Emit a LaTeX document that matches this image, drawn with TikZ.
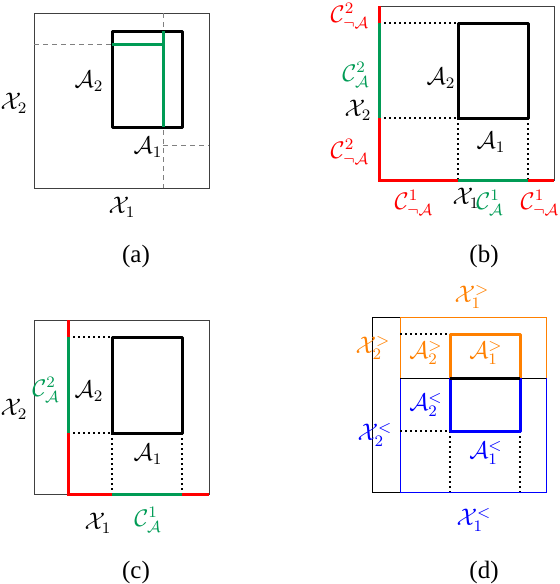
\documentclass[tikz,border=0pt]{standalone}
\usepackage{fontspec}
\setmainfont{Liberation Serif}
\definecolor{cgreen}{RGB}{0,155,85}
\definecolor{cred}{RGB}{255,0,0}
\definecolor{corange}{RGB}{255,128,0}
\definecolor{cblue}{RGB}{0,0,255}
\tikzset{
  frame/.style={draw=black!75, line width=0.5pt},
  thinblk/.style={draw=black, line width=0.5pt},
  dashgray/.style={draw=gray, line width=0.5pt, dash pattern=on 2.5pt off 2pt},
  dotblk/.style={draw=black, line width=0.9pt, dash pattern=on 0.9pt off 1.6pt},
  thickbox/.style={draw=black, line width=1.5pt, line join=round},
  grn/.style={draw=cgreen, line width=1.5pt},
  rd/.style={draw=cred, line width=1.5pt},
  lbl/.style={inner sep=0pt, font=\fontsize{12}{14}\selectfont},
  captxt/.style={inner sep=0pt, font=\fontsize{12.5}{15}\selectfont},
}
\begin{document}
\begin{tikzpicture}[x=0.5pt,y=-0.5pt]
\useasboundingbox (0,0) rectangle (560,584);
% ---------- (a)
\draw[frame] (34,13) rectangle (209,188);
\draw[dashgray] (163,13) -- (163,188);
\draw[dashgray] (34,44) -- (112,44);
\draw[dashgray] (163,145) -- (209,145);
\draw[thickbox] (112,31) rectangle (182,127);
\draw[grn] (112,44) -- (163,44);
\draw[grn] (163,31) -- (163,127);
\node[lbl] (a2) at (89,81) {$\mathcal{A}_2$};
\node[lbl] (ax2) at (14,103) {$\mathcal{X}_2$};
\node[lbl] (a1) at (148,147) {$\mathcal{A}_1$};
\node[lbl] (ax1) at (122,207) {$\mathcal{X}_1$};
\node[captxt] (capa) at (136,256) {(a)};
% ---------- (b)
\draw[frame] (379,6) rectangle (554,180);
\draw[dotblk] (379,23) -- (458,23);
\draw[dotblk] (379,118) -- (458,118);
\draw[dotblk] (458,118) -- (458,180);
\draw[dotblk] (528,118) -- (528,180);
\draw[thickbox] (458,23) rectangle (528,118);
\draw[rd] (379,6) -- (379,23);
\draw[grn] (379,23) -- (379,118);
\draw[rd] (379,118) -- (379,180) -- (458,180);
\draw[grn] (458,180) -- (528,180);
\draw[rd] (528,180) -- (554,180);
\node[lbl,text=cred] (bc2a) at (350,16) {$\mathcal{C}^2_{\neg\mathcal{A}}$};
\node[lbl,text=cgreen] (bc2b) at (356,75) {$\mathcal{C}^2_{\mathcal{A}}$};
\node[lbl] (bx2) at (358,110) {$\mathcal{X}_2$};
\node[lbl,text=cred] (bc2c) at (350,152) {$\mathcal{C}^2_{\neg\mathcal{A}}$};
\node[lbl,text=cred] (bc1a) at (414,203) {$\mathcal{C}^1_{\neg\mathcal{A}}$};
\node[lbl] (bx1) at (466,198) {$\mathcal{X}_1$};
\node[lbl,text=cgreen] (bc1b) at (490,203) {$\mathcal{C}^1_{\mathcal{A}}$};
\node[lbl,text=cred] (bc1c) at (540,203) {$\mathcal{C}^1_{\neg\mathcal{A}}$};
\node[lbl] (ba2) at (441,78) {$\mathcal{A}_2$};
\node[lbl] (ba1) at (491,142) {$\mathcal{A}_1$};
\node[captxt] (capb) at (484,256) {(b)};
% ---------- (c)
\draw[frame] (34,320) rectangle (209,494);
\draw[dotblk] (68,337) -- (112,337);
\draw[dotblk] (68,433) -- (112,433);
\draw[dotblk] (112,433) -- (112,494);
\draw[dotblk] (182,433) -- (182,494);
\draw[thickbox] (112,337) rectangle (182,433);
\draw[rd] (68,320) -- (68,337);
\draw[grn] (68,337) -- (68,433);
\draw[rd] (68,433) -- (68,494) -- (112,494);
\draw[grn] (112,494) -- (182,494);
\draw[rd] (182,494) -- (209,494);
\node[lbl,text=cgreen] (cc2) at (46,390) {$\mathcal{C}^2_{\mathcal{A}}$};
\node[lbl] (cx2) at (14,409) {$\mathcal{X}_2$};
\node[lbl] (ca2) at (89,391) {$\mathcal{A}_2$};
\node[lbl] (ca1) at (148,454) {$\mathcal{A}_1$};
\node[lbl] (cx1) at (98,523) {$\mathcal{X}_1$};
\node[lbl,text=cgreen] (cc1) at (148,520) {$\mathcal{C}^1_{\mathcal{A}}$};
\node[captxt] (capc) at (136,572) {(c)};
% ---------- (d)
\draw[thinblk] (372,317) rectangle (546,492);
\draw[draw=corange, line width=0.5pt] (400,317) rectangle (546,378);
\draw[draw=cblue, line width=0.5pt] (400,378) rectangle (546,492);
\draw[thinblk] (400,378) -- (546,378);
\draw[dotblk] (400,334) -- (450,334);
\draw[dotblk] (400,431) -- (450,431);
\draw[dotblk] (450,431) -- (450,492);
\draw[dotblk] (520,431) -- (520,492);
\draw[draw=corange, line width=1.5pt, line join=round] (450,378) -- (450,334) -- (520,334) -- (520,378);
\draw[draw=cblue, line width=1.5pt, line join=round] (450,378) -- (450,431) -- (520,431) -- (520,378);
\draw[draw=black, line width=1.5pt] (450,378) -- (520,378);
\node[lbl,text=corange] (dx1g) at (472,297) {$\mathcal{X}_1^{>}$};
\node[lbl,text=corange] (dx2g) at (373,348) {$\mathcal{X}_2^{>}$};
\node[lbl,text=corange] (da2g) at (426,353) {$\mathcal{A}_2^{>}$};
\node[lbl,text=corange] (da1g) at (486,353) {$\mathcal{A}_1^{>}$};
\node[lbl,text=cblue] (da2l) at (426,405) {$\mathcal{A}_2^{<}$};
\node[lbl,text=cblue] (dx2l) at (375,435) {$\mathcal{X}_2^{<}$};
\node[lbl,text=cblue] (da1l) at (486,453) {$\mathcal{A}_1^{<}$};
\node[lbl,text=cblue] (dx1l) at (474,520) {$\mathcal{X}_1^{<}$};
\node[captxt] (capd) at (484,572) {(d)};
\end{tikzpicture}
\end{document}
